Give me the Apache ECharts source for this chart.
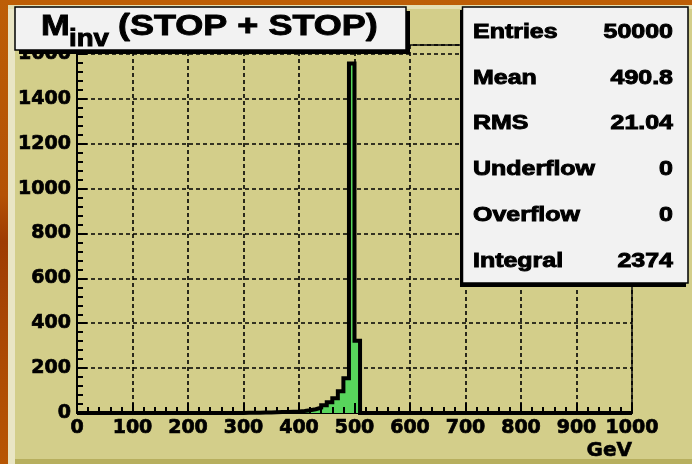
<!DOCTYPE html>
<html>
<head>
<meta charset="utf-8">
<script src="https://cdn.jsdelivr.net/npm/echarts@6/dist/echarts.min.js"></script>
<style>
  html, body { margin: 0; padding: 0; background: #b65a04; }
  #chart { width: 692px; height: 464px; }
</style>
</head>
<body>
<div id="chart"></div>
<script>
// Histogram of the stop-pair invariant mass, 100 bins of 10 GeV from 0 to 1000
const binStart = 0;
const binWidth = 10;
const counts = [
  0, 0, 0, 0, 0, 0, 0, 0, 0, 0,            // 0 - 100
  0, 0, 0, 0, 0, 0, 0, 0, 0, 0,            // 100 - 200
  0, 0, 0, 0, 0, 0, 0, 0, 0, 0,            // 200 - 300
  1, 1, 1, 2, 2, 3, 4, 5, 6, 7,            // 300 - 400
  9, 12, 17, 24, 34, 48, 66, 97, 155, 1558,// 400 - 500
  322, 0, 0, 0, 0, 0, 0, 0, 0, 0,          // 500 - 600
  0, 0, 0, 0, 0, 0, 0, 0, 0, 0,            // 600 - 700
  0, 0, 0, 0, 0, 0, 0, 0, 0, 0,            // 700 - 800
  0, 0, 0, 0, 0, 0, 0, 0, 0, 0,            // 800 - 900
  0, 0, 0, 0, 0, 0, 0, 0, 0, 0             // 900 - 1000
];

// Axis ranges and tick steps
const xRange = [0, 1000];
const xStep = 100;
const yRange = [0, 1640];
const yStep = 200;
const xTitle = 'GeV';

// Title pieces: M with subscript "inv"
const titleMain = 'M';
const titleSub = 'inv';
const titleRest = '(STOP + STOP)';

// Statistics box
const statNames = ['Entries', 'Mean', 'RMS', 'Underflow', 'Overflow', 'Integral'];
const statValues = ['50000', '490.8', '21.04', '0', '0', '2374'];

// Staircase points at the bin edges (step 'end' keeps each bin flat)
const stepPoints = counts.map((c, i) => [binStart + i * binWidth, c]);
stepPoints.push([binStart + counts.length * binWidth, counts[counts.length - 1]]);

const padColor = '#d3ce8a';
const labelFont = '"DejaVu Sans", sans-serif';
const boxFont = '"Liberation Sans", Arial, sans-serif';

const chart = echarts.init(document.getElementById('chart'), null, { renderer: 'canvas' });

function boxText(text, x, y, size, sx, align) {
  return {
    type: 'text', x: x, y: y, scaleX: sx, z: 102,
    style: {
      text: text, font: 'bold ' + size + 'px ' + boxFont, fill: '#000',
      stroke: '#000', lineWidth: 0.9,
      textAlign: align, align: align, textVerticalAlign: 'middle', verticalAlign: 'middle'
    }
  };
}

const statsElements = [];
statNames.forEach((name, i) => {
  const yc = 32.5 + i * 45.8;
  statsElements.push(boxText(name, 473, yc, 19.5, 1.28, 'left'));
  statsElements.push(boxText(statValues[i], 673, yc, 19.5, 1.28, 'right'));
});

const labelStyle = {
  color: '#000', fontFamily: labelFont, fontWeight: 'bold', fontSize: 19,
  textBorderColor: '#000', textBorderWidth: 0.7
};

const option = {
  animation: false,
  backgroundColor: {
    type: 'linear', x: 0, y: 0, x2: 0, y2: 1,
    colorStops: [
      { offset: 0, color: '#bd5e06' },
      { offset: 0.42, color: '#b45204' },
      { offset: 0.52, color: '#9e3c02' },
      { offset: 0.68, color: '#a84604' },
      { offset: 1, color: '#b85604' }
    ]
  },
  grid: {
    left: 77, right: 60, top: 45, bottom: 51,
    containLabel: false, outerBoundsMode: 'none',
    show: true, borderColor: '#111', borderWidth: 1.5, backgroundColor: 'transparent'
  },
  xAxis: [
    {
      type: 'value', min: xRange[0], max: xRange[1], interval: xStep, z: 0,
      name: xTitle, nameLocation: 'end', nameGap: 0, nameMoveOverlap: false,
      nameTextStyle: { color: '#000', fontFamily: labelFont, fontWeight: 'bold', fontSize: 20,
        textBorderColor: '#000', textBorderWidth: 0.6,
        align: 'right', verticalAlign: 'top', padding: [28, 0, 0, 0] },
      axisLine: { show: true, lineStyle: { color: '#000', width: 2 } },
      axisTick: { show: false },
      axisLabel: Object.assign({}, labelStyle, { margin: 6, formatter: v => String(v) }),
      splitLine: { show: true, lineStyle: { color: '#000', width: 1.6, type: [4, 3] } }
    },
    {
      // tick marks drawn on top of the filled histogram
      type: 'value', min: xRange[0], max: xRange[1], interval: xStep, z: 5,
      position: 'bottom', offset: 0,
      axisLine: { show: false },
      axisLabel: { show: false },
      splitLine: { show: false },
      axisTick: { show: true, inside: true, length: 10, lineStyle: { color: '#000', width: 2 } },
      minorTick: { show: true, splitNumber: 5, length: 6, lineStyle: { color: '#000', width: 2 } }
    }
  ],
  yAxis: {
    type: 'value', min: yRange[0], max: yRange[1], interval: yStep,
    axisLine: { show: true, lineStyle: { color: '#000', width: 2 } },
    axisTick: { show: true, inside: true, length: 10, lineStyle: { color: '#000', width: 2 } },
    minorTick: { show: true, splitNumber: 5, length: 6, lineStyle: { color: '#000', width: 2 } },
    axisLabel: Object.assign({}, labelStyle, {
      margin: 6,
      showMaxLabel: false,
      formatter: v => (v % yStep === 0 ? String(v) : '')
    }),
    splitLine: { show: true, lineStyle: { color: '#000', width: 1.6, type: [4, 3] } }
  },
  series: [{
    type: 'line',
    xAxisIndex: 0,
    step: 'end',
    symbol: 'none',
    data: stepPoints,
    z: 2,
    lineStyle: { color: '#000', width: 4, join: 'miter', cap: 'butt' },
    areaStyle: { color: '#58d55c', opacity: 1 }
  }],
  graphic: [
    // pad with bevelled edges
    { type: 'rect', z: -20, shape: { x: 8, y: 5, width: 690, height: 465 }, style: { fill: padColor } },
    { type: 'rect', z: -19, shape: { x: 8, y: 5, width: 7, height: 465 }, style: { fill: '#e9e5c4' } },
    { type: 'rect', z: -19, shape: { x: 8, y: 5, width: 690, height: 4 }, style: { fill: '#e4dfb2' } },
    { type: 'rect', z: -19, shape: { x: 15, y: 459, width: 683, height: 6 }, style: { fill: '#b7af5e' } },
    // title box with shadow
    { type: 'rect', z: 100, shape: { x: 19, y: 11, width: 391, height: 43 }, style: { fill: '#000' } },
    { type: 'rect', z: 101, shape: { x: 15, y: 7, width: 391, height: 43 },
      style: { fill: '#f2f2f2', stroke: '#000', lineWidth: 1.5 } },
    boxText(titleMain, 41, 27, 30, 1.15, 'left'),
    boxText(titleSub, 69, 40, 23, 1.2, 'left'),
    boxText(titleRest, 118, 27, 30, 1.2, 'left'),
    // statistics box with shadow
    { type: 'rect', z: 100, shape: { x: 460, y: 10, width: 226, height: 277 }, style: { fill: '#000' } },
    { type: 'rect', z: 101, shape: { x: 462.5, y: 7, width: 225.5, height: 276 },
      style: { fill: '#f2f2f2', stroke: '#000', lineWidth: 1.5 } }
  ].concat(statsElements)
};

chart.setOption(option);
</script>
</body>
</html>
